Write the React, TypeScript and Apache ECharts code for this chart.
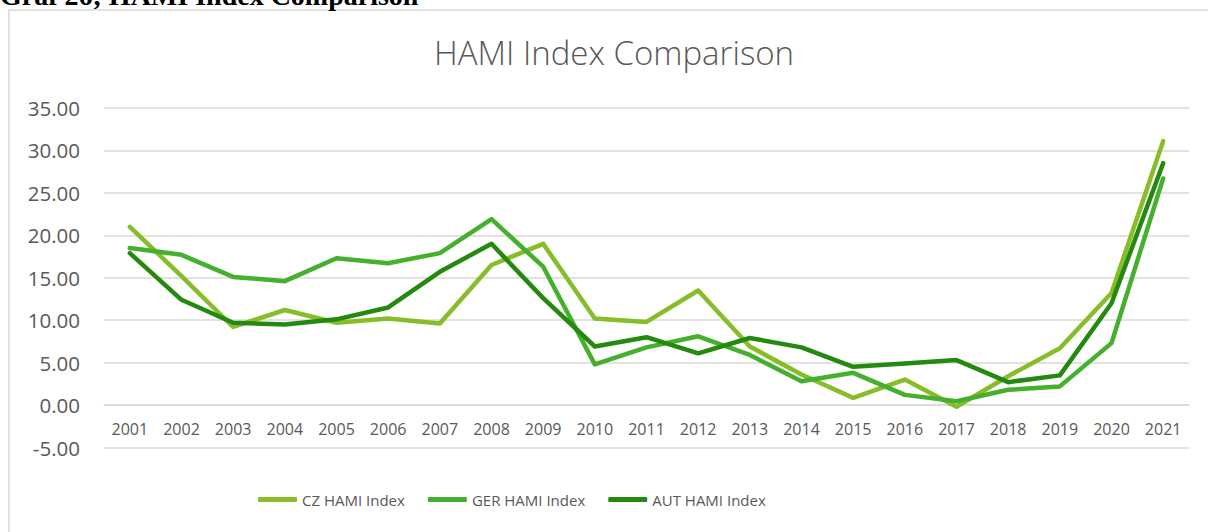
import React, { useEffect, useRef } from "react";
import * as echarts from "echarts";

const years = ["2001","2002","2003","2004","2005","2006","2007","2008","2009","2010","2011","2012","2013","2014","2015","2016","2017","2018","2019","2020","2021"];
const czValues = [21.0, 15.2, 9.2, 11.2, 9.7, 10.2, 9.6, 16.5, 19.0, 10.2, 9.8, 13.5, 6.9, 3.6, 0.85, 3.0, -0.2, 3.4, 6.7, 13.2, 31.1];
const gerValues = [18.5, 17.7, 15.1, 14.6, 17.3, 16.7, 17.9, 21.9, 16.3, 4.8, 6.8, 8.1, 5.9, 2.8, 3.8, 1.2, 0.45, 1.8, 2.2, 7.3, 26.7];
const autValues = [17.9, 12.4, 9.7, 9.5, 10.1, 11.5, 15.7, 19.0, 12.6, 6.9, 8.0, 6.1, 7.9, 6.8, 4.5, 4.9, 5.3, 2.7, 3.5, 12.0, 28.5];
const seriesNames = ["CZ HAMI Index", "GER HAMI Index", "AUT HAMI Index"];
const seriesColors = ["#86BD28", "#44B02E", "#26890F"];

export default function App() {
  const ref = useRef<HTMLDivElement>(null);
  useEffect(() => {
    if (!ref.current) return;
    const chart = echarts.init(ref.current, null, { renderer: "svg" });
    const font = "'Open Sans', sans-serif";
    const data = [czValues, gerValues, autValues];
    chart.setOption({
      animation: false,
      backgroundColor: "#ffffff",
      title: {
        text: "HAMI Index Comparison",
        left: 429,
        top: 31,
        textStyle: { fontFamily: font, fontSize: 33, fontWeight: 300, color: "#595959" },
      },
      graphic: [
        {
          type: "rect",
          shape: { x: 9, y: 10, width: 1260, height: 600 },
          style: { fill: "none", stroke: "#d9d9d9", lineWidth: 1.5 },
          silent: true,
        },
        {
          type: "text",
          x: 0,
          y: 9,
          style: {
            text: "Graf 26; HAMI Index Comparison",
            fontFamily: "'Liberation Serif', serif",
            fontSize: 28,
            fontWeight: "bold",
            fill: "#000000",
            textVerticalAlign: "bottom",
          },
        },
      ],
      legend: {
        left: 253,
        top: 487,
        itemWidth: 39,
        itemHeight: 5,
        itemGap: 23,
        icon: "roundRect",
        textStyle: { fontFamily: font, fontSize: 15, color: "#595959" },
        data: seriesNames,
      },
      grid: { left: 104, right: 19, top: 108, bottom: 84.5, containLabel: false },
      xAxis: {
        type: "category",
        data: years,
        boundaryGap: true,
        axisLine: { show: true, onZero: true, lineStyle: { color: "#d9d9d9", width: 1.5 } },
        axisTick: { show: false },
        axisLabel: { color: "#595959", fontFamily: font, fontSize: 16, margin: -27 },
        splitLine: { show: false },
      },
      yAxis: {
        type: "value",
        min: -5,
        max: 35,
        interval: 5,
        axisLine: { show: false },
        axisTick: { show: false },
        axisLabel: {
          color: "#595959",
          fontFamily: font,
          fontSize: 20.5,
          margin: 24,
          formatter: (v: number) => v.toFixed(2),
        },
        splitLine: { lineStyle: { color: "#d9d9d9", width: 1.5 } },
      },
      series: seriesNames.map((name, i) => ({
        name,
        type: "line",
        data: data[i],
        symbol: "none",
        color: seriesColors[i],
        lineStyle: { width: 4.5, color: seriesColors[i], join: "round", cap: "round" },
      })),
    });
    return () => chart.dispose();
  }, []);
  return (
    <div
      ref={ref}
      style={{ position: "absolute", left: 0, top: 0, width: 1208, height: 532 }}
    />
  );
}
